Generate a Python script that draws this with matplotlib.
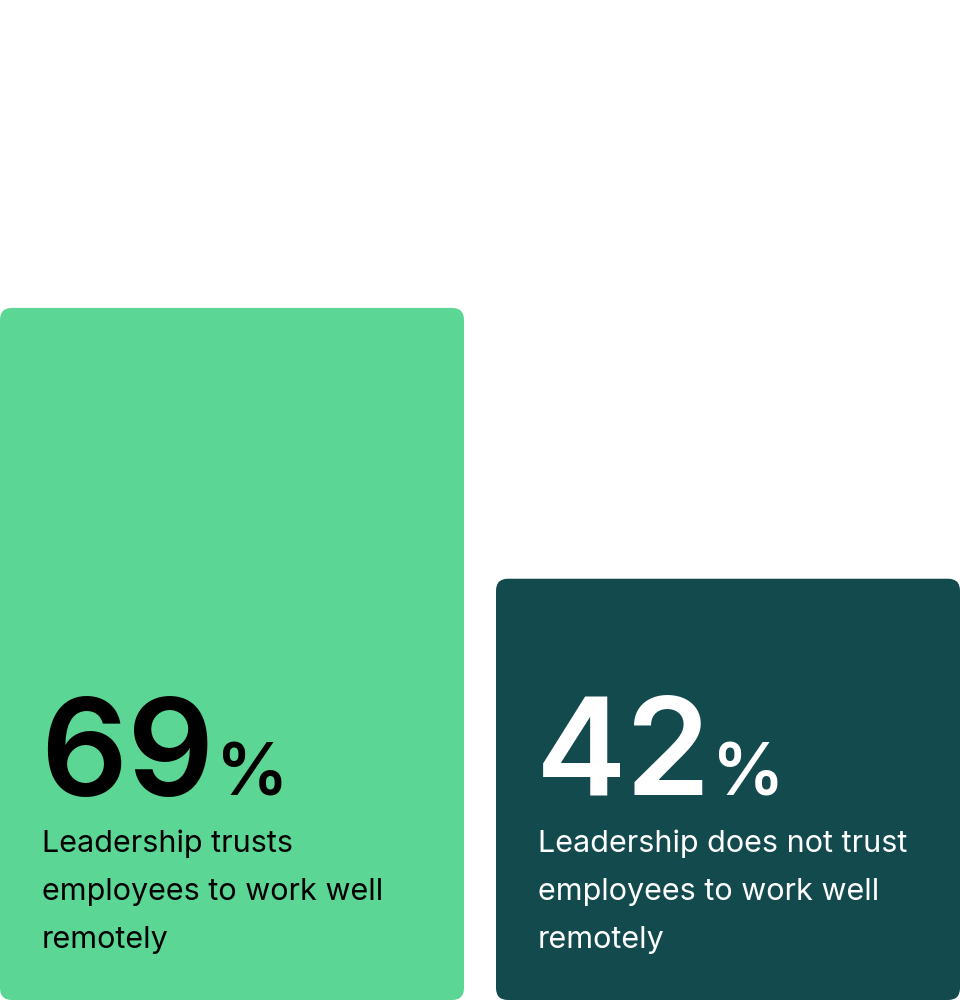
import matplotlib
matplotlib.use("Agg")
import matplotlib.pyplot as plt
from matplotlib.patches import FancyBboxPatch

plt.rcParams['font.family'] = ['Inter', 'DejaVu Sans']

values = [69, 42]
labels = ["Leadership trusts\nemployees to work well\nremotely",
          "Leadership does not trust\nemployees to work well\nremotely"]
colors = ['#5CD694', '#134A4D']
text_colors = ['#000000', '#FFFFFF']

W, H = 960, 1000
fig = plt.figure(figsize=(W / 100, H / 100), dpi=100)
ax = fig.add_axes([0, 0, 1, 1])

pitch_px = 496.0
bar_px = 464.0
width = bar_px / pitch_px
x = list(range(len(values)))
ax.set_xlim(-width / 2, len(values) - 1 + width / 2)
ax.set_ylim(0, 99.7)
ax.axis('off')

# px per data unit, used for round corners
xpx = pitch_px
ypx = H / 99.7
r = 12 / xpx

bars = ax.bar(x, values, width=width, color='none')
for b, c in zip(bars, colors):
    p = FancyBboxPatch((b.get_x(), b.get_y()), b.get_width(), b.get_height(),
                       boxstyle=f"round,pad=0,rounding_size={r}",
                       mutation_aspect=xpx / ypx,
                       facecolor=c, edgecolor='none')
    ax.add_patch(p)
    b.remove()

for xi, v, lab, tc in zip(x, values, labels, text_colors):
    left = xi - width / 2
    ax.annotate(f"{v}", xy=(left, 0), xytext=(40, 204), textcoords='offset pixels',
                fontsize=98, fontweight='semibold', color=tc, va='baseline', ha='left')
    ax.annotate("%", xy=(left, 0), xytext=(216, 205), textcoords='offset pixels',
                fontsize=52, fontweight='semibold', color=tc, va='baseline', ha='left')
    for k, line in enumerate(lab.split("\n")):
        ax.annotate(line, xy=(left, 0), xytext=(42, 148 - 48 * k), textcoords='offset pixels',
                    fontsize=22, color=tc, va='baseline', ha='left')

fig.savefig("out.png", dpi=100, facecolor='white')
